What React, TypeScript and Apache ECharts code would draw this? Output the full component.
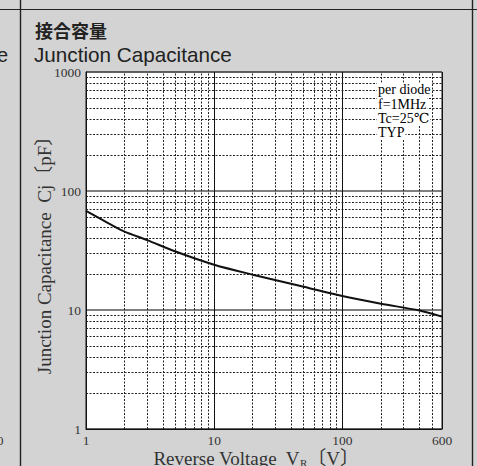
import React, { useEffect, useRef } from "react";
import * as echarts from "echarts";

// Reverse voltage (V) and junction capacitance (pF), per diode, TYP
const voltage = [1, 1.5, 2, 3, 5, 10, 20, 50, 100, 200, 400, 600];
const capacitance = [68, 53.5, 45.5, 38.7, 31, 24, 19.8, 15.7, 13.1, 11.3, 9.9, 8.8];

// Minor log grid positions
const xMinorTicks = [2, 3, 4, 5, 6, 7, 8, 9, 20, 30, 40, 50, 60, 70, 80, 90, 200, 300, 400, 500];
const yMinorTicks = [2, 3, 4, 5, 6, 7, 8, 9, 20, 30, 40, 50, 60, 70, 80, 90, 200, 300, 400, 500, 600, 700, 800, 900];

const conditionLines = ["per diode", "f=1MHz", "Tc=25℃", "TYP"];

const SERIF = "'Liberation Serif', 'DejaVu Serif', 'Noto Sans CJK JP', serif";
const SANS = "'Liberation Sans', Arial, 'Noto Sans CJK JP', sans-serif";

export default function App() {
  const ref = useRef<HTMLDivElement>(null);

  useEffect(() => {
    if (!ref.current) return;
    const chart = echarts.init(ref.current, undefined, { renderer: "svg" });

    const minorLine = {
      type: [2, 1.5] as number[],
      color: "#222",
      width: 1,
    };

    const option: any = {
      animation: false,
      backgroundColor: "#d3d3d3",
      grid: {
        left: 86,
        right: 35,
        top: 72,
        bottom: 37,
        containLabel: false,
        outerBoundsMode: "none",
        show: true,
        backgroundColor: "#ffffff",
        borderColor: "#111",
        borderWidth: 1,
      },
      xAxis: {
        type: "log",
        logBase: 10,
        min: 1,
        max: 600,
        name: "{a|Reverse Voltage  V}{s|R}{a|〔V〕}",
        nameLocation: "middle",
        nameGap: 20,
        nameMoveOverlap: false,
        nameTextStyle: {
          padding: [0, 16, 0, 0],
          rich: {
            a: { fontFamily: SERIF, fontSize: 19, color: "#333" },
            s: { fontFamily: SERIF, fontSize: 11, color: "#333", verticalAlign: "bottom" },
          },
        },
        axisLine: { show: true, lineStyle: { color: "#111", width: 1 } },
        axisTick: { show: false },
        axisLabel: {
          fontFamily: SERIF,
          fontSize: 13.5,
          color: "#333",
          margin: 5,
          formatter: (v: number) => String(Math.round(v)),
        },
        splitLine: { show: true, lineStyle: { color: "#111", width: 1 } },
      },
      yAxis: {
        type: "log",
        logBase: 10,
        min: 1,
        max: 1000,
        name: "Junction Capacitance  Cj〔pF〕",
        nameLocation: "middle",
        nameGap: 32,
        nameMoveOverlap: false,
        nameTextStyle: { fontFamily: SERIF, fontSize: 19, color: "#333" },
        axisLine: { show: true, lineStyle: { color: "#111", width: 1 } },
        axisTick: { show: false },
        axisLabel: {
          fontFamily: SERIF,
          fontSize: 13.5,
          color: "#333",
          margin: 5,
          formatter: (v: number) => String(Math.round(v)),
        },
        splitLine: { show: true, lineStyle: { color: "#555", width: 1.5 } },
      },
      series: [
        {
          name: "grid",
          type: "line",
          data: [],
          z: 1,
          silent: true,
          markLine: {
            silent: true,
            symbol: ["none", "none"],
            label: { show: false },
            lineStyle: minorLine,
            emphasis: { disabled: true },
            data: [
              ...xMinorTicks.map((v) => ({ xAxis: v })),
              ...yMinorTicks.map((v) => ({ yAxis: v })),
            ],
          },
        },
        {
          name: "Cj",
          type: "line",
          data: voltage.map((v, i) => [v, capacitance[i]]),
          smooth: 0.3,
          symbol: "none",
          z: 5,
          lineStyle: { color: "#111", width: 2 },
        },
      ],
      graphic: [
        { type: "line", z: 50, shape: { x1: 0, y1: 9.5, x2: 477, y2: 9.5 }, style: { stroke: "#222", lineWidth: 1.2 } },
        { type: "line", z: 50, shape: { x1: 20.5, y1: 0, x2: 20.5, y2: 466 }, style: { stroke: "#222", lineWidth: 1.4 } },
        { type: "line", z: 50, shape: { x1: 472.5, y1: 0, x2: 472.5, y2: 466 }, style: { stroke: "#222", lineWidth: 1.4 } },
        {
          type: "text",
          z: 50,
          style: { text: "e", x: 8, y: 55, align: "right", verticalAlign: "middle", font: `20px ${SANS}`, fill: "#222" },
        },
        {
          type: "text",
          z: 50,
          style: { text: "0", x: 3.5, y: 440, align: "right", verticalAlign: "middle", font: `13px ${SERIF}`, fill: "#333" },
        },
        {
          type: "text",
          z: 50,
          style: { text: "接合容量", x: 35, y: 30, verticalAlign: "middle", font: `bold 18px 'Noto Sans CJK JP', sans-serif`, fill: "#222" },
        },
        {
          type: "text",
          z: 50,
          style: { text: "Junction Capacitance", x: 34, y: 54, verticalAlign: "middle", font: `20.7px ${SANS}`, fill: "#222" },
        },
        {
          type: "text",
          z: 100,
          style: {
            text: conditionLines.map((t) => `{b|${t}}`).join("\n"),
            x: 377,
            y: 82.5,
            verticalAlign: "top",
            rich: {
              b: {
                fontFamily: SERIF,
                fontSize: 14,
                lineHeight: 14.4,
                color: "#333",
                backgroundColor: "#ffffff",
                padding: [0, 1, 0, 1],
              },
            },
          },
        },
      ],
    };

    chart.setOption(option);
    return () => chart.dispose();
  }, []);

  return (
    <div
      ref={ref}
      style={{ position: "fixed", left: 0, top: 0, width: 477, height: 466 }}
    />
  );
}
